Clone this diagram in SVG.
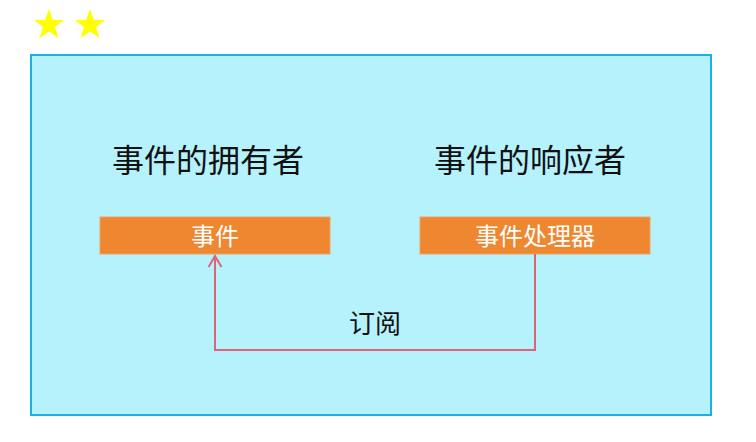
<svg xmlns="http://www.w3.org/2000/svg" width="756" height="442" viewBox="0 0 756 442">
<defs>
<style>
.t{font-family:"Liberation Sans","Noto Sans CJK SC",sans-serif;}
.big{font-size:32px;fill:#111;}
.box{fill:#ef8731;stroke:#f0a060;stroke-width:1;}
.bt{font-size:24px;fill:#fff;}
.star{fill:#ffff00;}
</style>
<marker id="arr" markerWidth="16" markerHeight="16" refX="12" refY="7.5" orient="auto" markerUnits="userSpaceOnUse" viewBox="0 0 16 16">
<path d="M1,1 L12,7.5 L1,14" fill="none" stroke="#e06478" stroke-width="2"/>
</marker>
</defs>
<rect width="756" height="442" fill="#fff"/>
<g id="stars">
<polygon class="star" transform="translate(49,25)" points="0,-16 3.8,-5.2 15.2,-4.9 6.1,2 9.4,12.9 0,6.5 -9.4,12.9 -6.1,2 -15.2,-4.9 -3.8,-5.2"/>
<polygon class="star" transform="translate(90,25)" points="0,-16 3.8,-5.2 15.2,-4.9 6.1,2 9.4,12.9 0,6.5 -9.4,12.9 -6.1,2 -15.2,-4.9 -3.8,-5.2"/>
</g>
<g id="container">
<rect x="31" y="55" width="680" height="360" fill="#b5f2fc" stroke="#1ab0e8" stroke-width="2"/>
</g>
<g id="owner-label"><text class="t big" x="208" y="172" text-anchor="middle">事件的拥有者</text></g>
<g id="responder-label"><text class="t big" x="530" y="172" text-anchor="middle">事件的响应者</text></g>
<g id="event">
<rect class="box" x="100" y="217" width="230" height="37"/>
<text class="t bt" x="215" y="245" text-anchor="middle">事件</text>
</g>
<g id="handler">
<rect class="box" x="420" y="217" width="230" height="37"/>
<text class="t bt" x="535" y="245" text-anchor="middle">事件处理器</text>
</g>
<g id="connectors">
<polyline points="535,254 535,350 215,350 215,256" fill="none" stroke="#e06478" stroke-width="2" marker-end="url(#arr)"/>
<text class="t" x="375" y="333" text-anchor="middle" font-size="26" fill="#111">订阅</text>
</g>
</svg>
